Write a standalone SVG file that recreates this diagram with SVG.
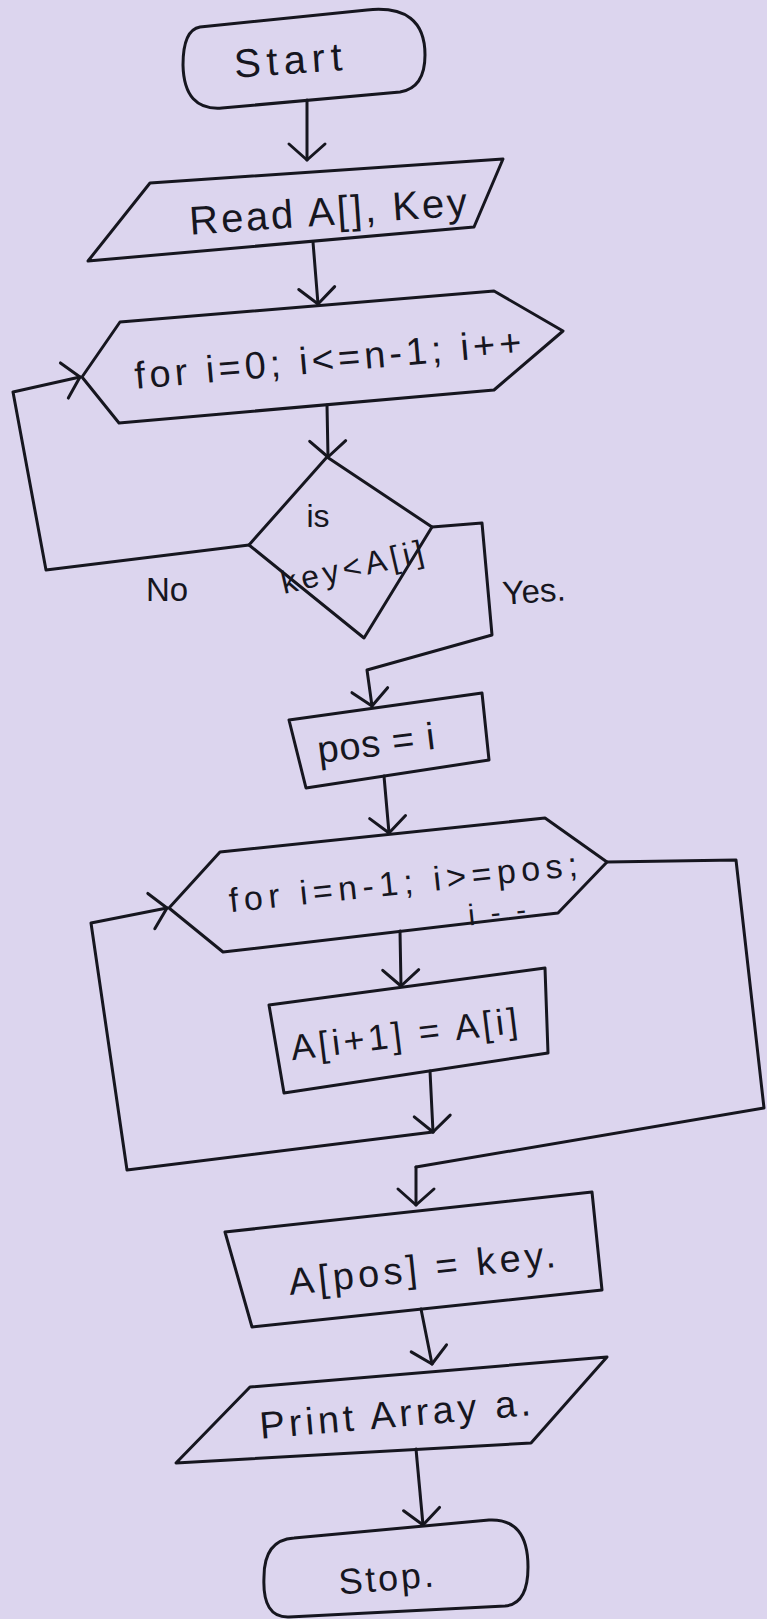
<svg xmlns="http://www.w3.org/2000/svg" width="767" height="1619" viewBox="0 0 767 1619">
<style>
.shape{fill:none;stroke:#16161f;stroke-width:3;stroke-linejoin:round;stroke-linecap:round}
.conn{fill:none;stroke:#16161f;stroke-width:3;stroke-linejoin:round;stroke-linecap:round}
.lbl{font-family:"Liberation Sans",Arial,sans-serif;fill:#16161f;text-anchor:middle;dominant-baseline:central}
</style>
<defs>
<marker id="v" viewBox="-3 -3 26 42" refX="18" refY="18" markerWidth="26" markerHeight="42" markerUnits="userSpaceOnUse" orient="auto">
<path d="M2,0 L18,18 L2,36" fill="none" stroke="#16161f" stroke-width="3" stroke-linecap="round" stroke-linejoin="round"/>
</marker>
</defs>
<rect x="0" y="0" width="767" height="1619" fill="#dcd5ee"/>

<g id="connectors">
<path class="conn" d="M307,100 L307,160" marker-end="url(#v)"/>
<path class="conn" d="M313,242 L318,304" marker-end="url(#v)"/>
<path class="conn" d="M327,405 L328,457" marker-end="url(#v)"/>
<path class="conn" d="M249,545 L46,570 L13,392 L80,377" marker-end="url(#v)"/>
<path class="conn" d="M432,527 L482,523 L492,635 L367,670 L372,706" marker-end="url(#v)"/>
<path class="conn" d="M384,776 L389,833" marker-end="url(#v)"/>
<path class="conn" d="M400,931 L401,986" marker-end="url(#v)"/>
<path class="conn" d="M430,1071 L433,1132" marker-end="url(#v)"/>
<path class="conn" d="M433,1132 L127,1170 L91,923 L167,908" marker-end="url(#v)"/>
<path class="conn" d="M607,862 L736,860 L764,1108 L416,1167"/>
<path class="conn" d="M416,1167 L416,1205" marker-end="url(#v)"/>
<path class="conn" d="M421,1309 L432,1364" marker-end="url(#v)"/>
<path class="conn" d="M416,1449 L423,1525" marker-end="url(#v)"/>
<text class="lbl" x="167" y="589" font-size="33">No</text>
<text class="lbl" x="534" y="591" font-size="33" transform="rotate(-4 534 591)">Yes.</text>
</g>

<g id="start">
<path class="shape" d="M200,27 L367,10 Q425,4 425,55 Q425,88 400,92 L222,108 Q184,111 183,65 Q183,30 200,27 Z"/>
<text class="lbl" x="288" y="60" font-size="40" textLength="108" transform="rotate(-4 288 60)">Start</text>
</g>

<g id="read">
<polygon class="shape" points="150,183 503,159 474,227 88,261"/>
<text class="lbl" x="328" y="211" font-size="40" textLength="278" transform="rotate(-4 328 211)">Read A[], Key</text>
</g>

<g id="loop1">
<polygon class="shape" points="82,377 120,322 494,291 563,331 494,390 119,423"/>
<text class="lbl" x="328" y="359" font-size="38" textLength="388" transform="rotate(-5 328 359)">for i=0; i&lt;=n-1; i++</text>
</g>

<g id="decision">
<polygon class="shape" points="327,457 432,527 364,638 249,545"/>
<text class="lbl" x="318" y="516" font-size="32">is</text>
<text class="lbl" x="352" y="567" font-size="32" textLength="145" transform="rotate(-13 352 567)">key&lt;A[i]</text>
</g>

<g id="pos">
<polygon class="shape" points="289,720 482,693 489,760 306,788"/>
<text class="lbl" x="376" y="743" font-size="38" textLength="118" transform="rotate(-7 376 743)">pos = i</text>
</g>

<g id="loop2">
<polygon class="shape" points="169,908 220,852 545,818 607,862 558,913 223,952"/>
<text class="lbl" x="403" y="882" font-size="34" textLength="350" transform="rotate(-6 403 882)">for  i=n-1; i&gt;=pos;</text>
<text class="lbl" x="497" y="912" font-size="30" textLength="58" transform="rotate(-6 497 912)">i--</text>
</g>

<g id="shift">
<polygon class="shape" points="269,1005 545,968 548,1053 284,1093"/>
<text class="lbl" x="404" y="1034" font-size="36" textLength="228" transform="rotate(-7 404 1034)">A[i+1] = A[i]</text>
</g>

<g id="insert">
<polygon class="shape" points="225,1232 592,1192 602,1290 252,1327"/>
<text class="lbl" x="422" y="1268" font-size="38" textLength="268" transform="rotate(-6 422 1268)">A[pos] = key.</text>
</g>

<g id="print">
<polygon class="shape" points="250,1387 607,1357 531,1443 176,1463"/>
<text class="lbl" x="395" y="1414" font-size="38" textLength="272" transform="rotate(-5 395 1414)">Print Array a.</text>
</g>

<g id="stop">
<path class="shape" d="M294,1538 L489,1520 Q528,1518 528,1567 Q528,1604 505,1606 L289,1617 Q262,1618 264,1577 Q264,1540 294,1538 Z"/>
<text class="lbl" x="386" y="1578" font-size="36" textLength="95" transform="rotate(-5 386 1578)">Stop.</text>
</g>
</svg>
